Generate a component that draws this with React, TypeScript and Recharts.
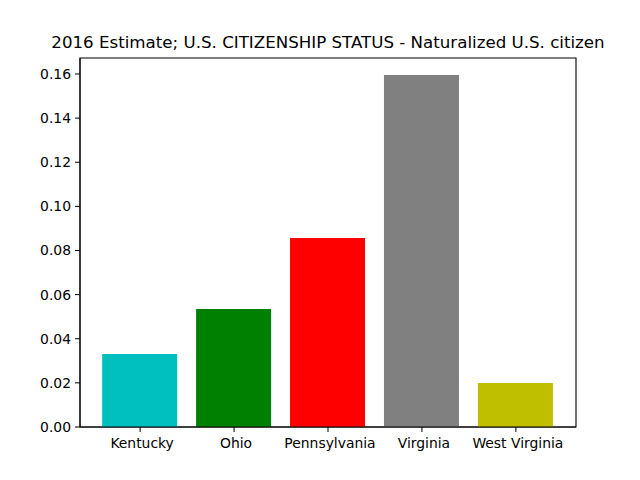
import { Bar, BarChart, Cell, ReferenceArea, XAxis, YAxis } from 'recharts'

// 2016 ACS estimate, share of population that is a naturalized U.S. citizen
const states = ['Kentucky', 'Ohio', 'Pennsylvania', 'Virginia', 'West Virginia']
const shares = [0.0331, 0.0535, 0.0857, 0.1595, 0.0199]
const barColors = ['#00bfbf', '#008000', '#ff0000', '#808080', '#bfbf00']
const yTicks = [0, 0.02, 0.04, 0.06, 0.08, 0.1, 0.12, 0.14, 0.16]

// bars sit at integer positions, like matplotlib's categorical x axis
const data = states.map((state, i) => ({ pos: i, state, share: shares[i] }))
const xDomain: [number, number] = [-0.64, 4.64]
const yDomain: [number, number] = [0, 0.16725]

const font = '"DejaVu Sans", sans-serif'
const tickStyle = { fill: '#000', fontSize: 13.9, fontFamily: font }

export default function App() {
  return (
    <div style={{ position: 'absolute', left: 0, top: 0, width: 640, height: 480, background: '#fff' }}>
      <div
        style={{
          position: 'absolute',
          left: 328,
          top: 35,
          transform: 'translateX(-50%)',
          fontFamily: font,
          fontSize: 16.67,
          lineHeight: 1,
          whiteSpace: 'nowrap',
          color: '#000',
        }}
      >
        2016 Estimate; U.S. CITIZENSHIP STATUS - Naturalized U.S. citizen
      </div>
      <BarChart width={640} height={480} data={data} margin={{ top: 58, right: 64, left: 0, bottom: 0 }}>
        <XAxis
          type="number"
          dataKey="pos"
          domain={xDomain}
          ticks={[0, 1, 2, 3, 4]}
          height={53}
          tick={{ ...tickStyle, dx: 2 }}
          tickSize={5}
          tickMargin={6}
          stroke="#000"
          interval={0}
          tickFormatter={(v) => states[Number(v)] ?? ''}
          allowDataOverflow
        />
        <YAxis
          domain={yDomain}
          ticks={yTicks}
          width={80}
          tick={tickStyle}
          tickSize={5}
          tickMargin={4}
          stroke="#000"
          tickFormatter={(v) => Number(v).toFixed(2)}
          allowDataOverflow
        />
        <Bar dataKey="share" barSize={75} isAnimationActive={false}>
          {data.map((d, i) => (
            <Cell key={d.state} fill={barColors[i]} />
          ))}
        </Bar>
        <ReferenceArea
          x1={xDomain[0]}
          x2={xDomain[1]}
          y1={yDomain[0]}
          y2={yDomain[1]}
          fill="none"
          stroke="#000"
          strokeWidth={1.1}
          ifOverflow="visible"
        />
      </BarChart>
    </div>
  )
}
